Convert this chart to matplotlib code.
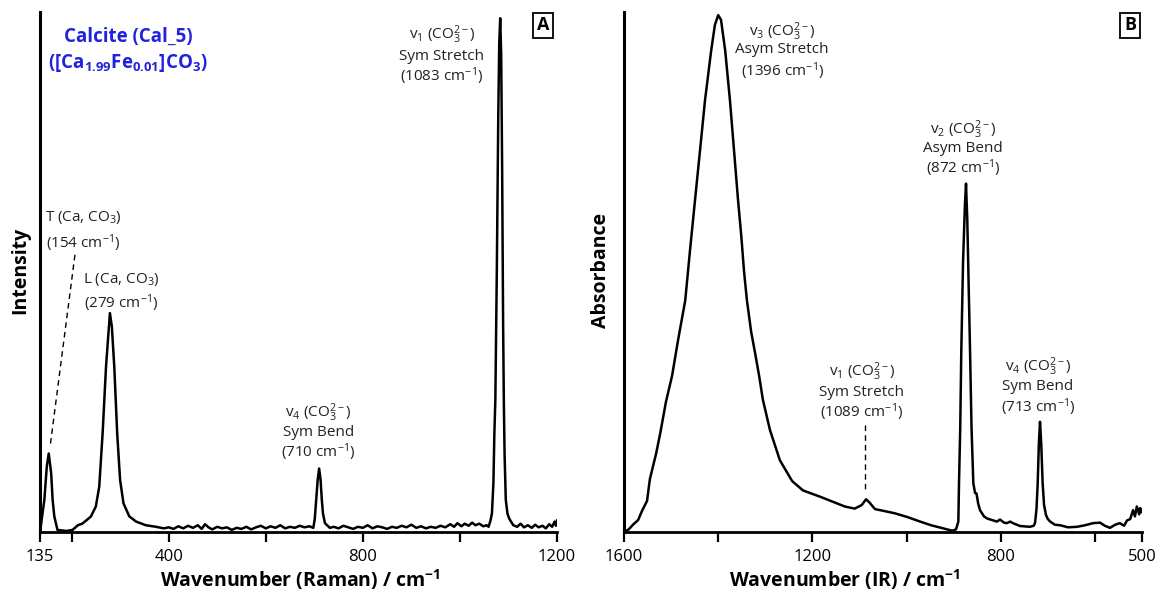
import matplotlib.pyplot as plt

# painel A - espectro Raman (numero de onda, intensidade relativa)
raman_wn = [135, 144, 149, 153, 158, 161, 164.5, 171, 189, 202, 213, 222, 230, 240, 250,
            257, 264, 271, 277, 279, 283, 288, 294, 300, 307, 319, 333, 353, 374, 390,
            400, 410, 420, 430, 440, 450, 460, 468, 475, 482, 490, 500, 510, 520, 530,
            540, 550, 560, 570, 580, 590, 600, 610, 620, 630, 640, 650, 660, 670, 680, 690,
            698, 701, 704, 707, 710, 713, 715.5, 718, 722, 732,
            740, 750, 760, 770, 780, 790, 800, 810, 820, 830, 840, 850, 860, 870, 880,
            890, 900, 910, 920, 930, 940, 950, 960, 970, 980, 988, 995, 1003, 1010, 1018,
            1025, 1032, 1040, 1048, 1055,
            1059, 1063, 1066, 1069, 1071, 1073, 1076, 1079, 1081, 1083, 1085, 1087, 1089,
            1090.5, 1092, 1094.5, 1098, 1102, 1110,
            1118, 1125, 1132, 1140, 1148, 1155, 1162, 1170, 1177, 1184, 1190, 1195, 1198, 1200]
raman_int = [0, 6.2, 12.6, 15.1, 11.3, 6.2, 3.0, 0.4, 0.2, 0.4, 1.3, 1.6, 2.2, 3.0, 4.9,
             8.7, 19, 31.8, 39.5, 42.1, 39.5, 31.8, 19, 10, 5.5, 3.0, 2.0, 1.3, 1.0, 0.7,
             0.9, 0.6, 1.1, 0.7, 1.2, 0.8, 1.3, 0.6, 1.5, 0.9, 0.5, 1.0, 0.7, 0.9, 0.4,
             0.8, 0.6, 1.0, 0.5, 0.9, 1.2, 0.7, 1.1, 0.8, 1.3, 0.7, 1.0, 0.8, 1.2, 0.9, 1.1,
             0.8, 2.5, 6.2, 10, 12.2, 10, 6.2, 3.5, 1.7, 0.8,
             1.0, 0.7, 1.2, 0.9, 0.6, 1.0, 0.8, 1.3, 0.7, 1.1, 0.9, 0.6, 1.0, 0.8, 1.2,
             0.9, 1.4, 0.8, 1.1, 0.7, 1.0, 0.8, 1.2, 0.9, 1.5, 1.0, 1.7, 1.1, 1.6, 1.2,
             1.8, 1.3, 1.6, 1.1, 1.3,
             1.0, 2.2, 3.6, 9.4, 19, 25.4, 50, 80, 94, 98.8, 92, 70, 40,
             25, 15, 6.2, 3.5, 2.5, 1.3,
             1.0, 1.6, 0.9, 1.3, 0.8, 1.4, 0.9, 1.2, 0.7, 1.5, 1.0, 2.0, 1.2, 2.2]

# painel B - espectro IR (numero de onda, absorbancia relativa)
ir_wn = [1600, 1590, 1581, 1570, 1562, 1551, 1545, 1532, 1523, 1511, 1498, 1485, 1470,
         1460, 1449, 1439, 1428, 1415, 1407, 1400, 1394, 1385, 1375, 1366, 1358, 1351,
         1345, 1339, 1330, 1322, 1313, 1305, 1290, 1269, 1243, 1220, 1190, 1184, 1156,
         1131, 1110, 1095, 1086, 1078, 1067, 1056, 1025, 999, 971, 948, 918, 903, 895,
         890, 888.6, 886, 883.7, 880, 876, 873.7, 871, 868, 865.2, 862, 858.2, 854.5,
         851.4, 848, 844, 835.5, 829, 808, 801.5, 793, 787, 780, 774, 759, 738, 730,
         727, 724, 721.5, 719, 716.6, 714, 711, 708, 704, 700, 695, 685, 674, 657, 638,
         621, 604, 589, 579, 568, 557, 547, 538, 532, 525, 519, 515, 511, 506, 504, 502, 500]
ir_abs = [0, 0.5, 1.4, 2.3, 4.0, 6.0, 10.2, 15, 19, 25, 30, 37, 44.5,
          54, 64, 73, 83, 92.5, 97.5, 99.4, 98.5, 92.5, 83, 73, 64, 57,
          50, 44.6, 38.5, 34.6, 30, 25.4, 19.6, 13.8, 9.8, 8.0, 7.0, 6.8, 5.8,
          4.9, 4.5, 5.2, 6.3, 5.6, 4.4, 4.2, 3.6, 2.9, 2.0, 1.3, 0.6, 0.25, 0.5,
          2, 9.4, 20, 35, 52, 63, 67, 60, 47, 35, 20, 9.4, 7.5,
          7.4, 5.5, 4.2, 3.0, 2.6, 2.0, 2.4, 1.8, 1.7, 2.0, 1.7, 1.15, 1.0, 1.2,
          1.8, 4.5, 9.4, 17, 21.2, 17, 9.4, 5.2, 3.3, 2.5, 2.0, 1.4, 1.3, 0.9, 1.0,
          1.3, 1.7, 1.8, 1.2, 0.8, 1.4, 1.7, 1.2, 2.2, 2.5, 4.2, 3.0, 4.9, 3.4, 4.6, 3.8, 4.2]

raman_ticks = [135, 200, 400, 600, 800, 1000, 1200]
raman_tick_labels = ['135', '', '400', '', '800', '', '1200']
ir_ticks = [1600, 1400, 1200, 1000, 800, 600, 500]
ir_tick_labels = ['1600', '', '1200', '', '800', '', '500']

plt.rcParams['font.family'] = ['Open Sans', 'DejaVu Sans']
plt.rcParams['mathtext.fontset'] = 'custom'
plt.rcParams['mathtext.rm'] = 'Open Sans'
plt.rcParams['mathtext.it'] = 'Open Sans:italic'
plt.rcParams['mathtext.bf'] = 'Open Sans:bold'

W, H = 1159, 597
fig = plt.figure(figsize=(W / 100, H / 100), dpi=100)
cinza = '#222222'


def criar_eixo(x0, x1):
    ax = fig.add_axes([x0 / W, 1 - 532 / H, (x1 - x0) / W, 520 / H])
    ax.spines['top'].set_visible(False)
    ax.spines['right'].set_visible(False)
    ax.spines['left'].set_linewidth(2.2)
    ax.spines['bottom'].set_linewidth(2.0)
    ax.set_yticks([])
    ax.tick_params(axis='x', direction='out', length=7, width=1.6, labelsize=12, pad=5)
    ax.set_ylim(0, 100)
    return ax


def rotulo(ax, x, ys, linhas):
    for y, t in zip(ys, linhas):
        ax.text(x, y, t, ha='center', va='center', fontsize=11, color=cinza)


# painel A
axA = criar_eixo(40, 557)
axA.plot(raman_wn, raman_int, color='black', lw=1.8, solid_joinstyle='round')
axA.set_xlim(135, 1200)
axA.set_xticks(raman_ticks)
axA.set_xticklabels(raman_tick_labels)

axA.text(316, 95.2, 'Calcite (Cal_5)', ha='center', va='center', fontsize=13.5,
         fontweight='bold', color='#2222dd')
axA.text(316, 90.2, r'([Ca$_{\mathbf{1.99}}$Fe$_{\mathbf{0.01}}$]CO$_{\mathbf{3}}$)',
         ha='center', va='center', fontsize=13.5, fontweight='bold', color='#2222dd')

rotulo(axA, 225, [60.4, 55.6], [r'T (Ca, CO$_3$)', r'(154 cm$^{-1}$)'])
axA.plot([207, 155.6], [53.3, 16.3], color='black', lw=1, ls=(0, (4, 3)))
rotulo(axA, 303, [48.5, 44.0], [r'L (Ca, CO$_3$)', r'(279 cm$^{-1}$)'])
rotulo(axA, 708, [22.9, 19.2, 15.4], [r'v$_4$ (CO$_3^{2-}$)', 'Sym Bend', r'(710 cm$^{-1}$)'])
rotulo(axA, 963, [95.6, 91.5, 87.7], [r'v$_1$ (CO$_3^{2-}$)', 'Sym Stretch', r'(1083 cm$^{-1}$)'])

# painel B
axB = criar_eixo(624, 1142)
axB.plot(ir_wn, ir_abs, color='black', lw=1.8, solid_joinstyle='round')
axB.set_xlim(1600, 500)
axB.set_xticks(ir_ticks)
axB.set_xticklabels(ir_tick_labels)

rotulo(axB, 1264, [96.2, 92.7, 88.7], [r'v$_3$ (CO$_3^{2-}$)', 'Asym Stretch', r'(1396 cm$^{-1}$)'])
rotulo(axB, 880, [77.3, 73.8, 70.0], [r'v$_2$ (CO$_3^{2-}$)', 'Asym Bend', r'(872 cm$^{-1}$)'])
rotulo(axB, 1095, [30.8, 26.9, 23.1], [r'v$_1$ (CO$_3^{2-}$)', 'Sym Stretch', r'(1089 cm$^{-1}$)'])
axB.plot([1088.7, 1088.7], [20.6, 7.5], color='black', lw=1, ls=(0, (4, 3)))
rotulo(axB, 721, [31.7, 27.9, 24.0], [r'v$_4$ (CO$_3^{2-}$)', 'Sym Bend', r'(713 cm$^{-1}$)'])

# titulos dos eixos
fig.text(300 / W, 1 - 580 / H, r'Wavenumber (Raman) / cm$^{\mathbf{-1}}$', ha='center',
         va='center', fontsize=14, fontweight='bold')
fig.text(845 / W, 1 - 580 / H, r'Wavenumber (IR) / cm$^{\mathbf{-1}}$', ha='center',
         va='center', fontsize=14, fontweight='bold')
fig.text(20 / W, 1 - 270 / H, 'Intensity', rotation=90, ha='center', va='center',
         fontsize=14, fontweight='bold')
fig.text(601 / W, 1 - 270 / H, 'Absorbance', rotation=90, ha='center', va='center',
         fontsize=14, fontweight='bold')

for letra, px in [('A', 543), ('B', 1130)]:
    fig.text(px / W, 1 - 25.5 / H, letra, ha='center', va='center', fontsize=13,
             fontweight='bold', bbox=dict(boxstyle='square,pad=0.2', fc='white',
                                          ec='black', lw=1.3))

fig.savefig('out.png', dpi=100)
